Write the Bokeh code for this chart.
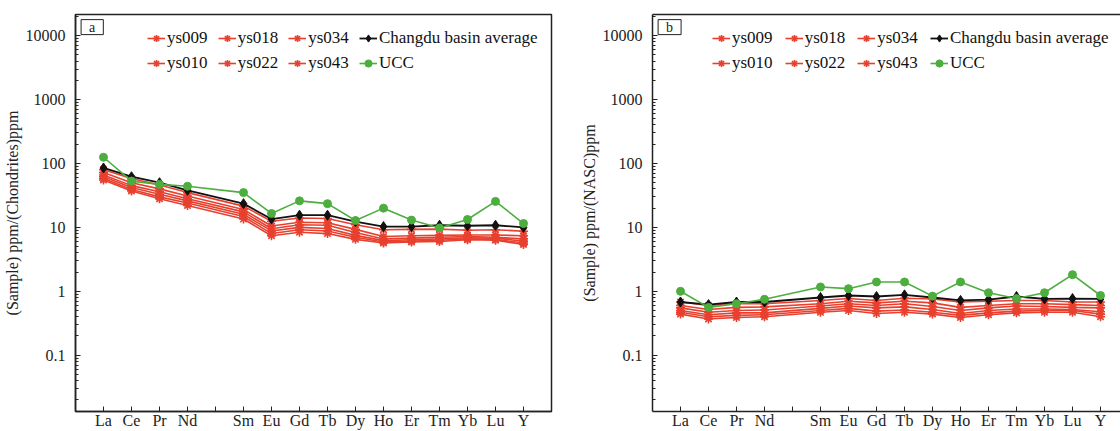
from bokeh.plotting import figure
from bokeh.models import FixedTicker, Legend, LegendItem, Label, LinearAxis, Range1d
from bokeh.layouts import row
from bokeh.embed import file_html
from bokeh.resources import INLINE

# ---------------- data ----------------
axis_labels = ["La", "Ce", "Pr", "Nd", "", "Sm", "Eu", "Gd", "Tb", "Dy", "Ho", "Er", "Tm", "Yb", "Lu", "Y"]
elements = [e for e in axis_labels if e]

y_ticks = [0.1, 1, 10, 100, 1000, 10000]
y_tick_labels = ["0.1", "1", "10", "100", "1000", "10000"]

# Panel a: chondrite-normalised
a_ys009 = [80, 58, 46, 35, 21.5, 12.5, 14.0, 13.8, 11.0, 9.2, 9.3, 9.4, 9.0, 9.2, 8.7]
a_ys010 = [72, 50, 40, 31, 19.0, 10.5, 12.0, 11.8, 9.3, 7.2, 7.4, 7.5, 7.6, 7.6, 7.4]
a_ys018 = [66, 45, 36, 28, 17.5, 9.5, 11.0, 10.8, 8.3, 6.6, 6.8, 7.0, 7.2, 7.0, 6.6]
a_ys022 = [62, 42, 33, 26, 16.0, 8.8, 10.0, 9.6, 7.5, 6.2, 6.4, 6.6, 6.9, 6.8, 6.1]
a_ys034 = [58, 39, 30, 24, 14.8, 8.0, 9.2, 8.8, 7.0, 5.9, 6.1, 6.3, 6.6, 6.5, 5.7]
a_ys043 = [55, 37, 28, 22, 13.5, 7.4, 8.4, 8.0, 6.5, 5.7, 5.9, 6.0, 6.4, 6.3, 5.4]
a_changdu = [85, 62, 50, 38, 23.5, 13.5, 15.5, 15.5, 12.3, 10.3, 10.3, 10.8, 10.6, 10.8, 10.0]
a_ucc = [125, 53, 47, 44, 35, 16.5, 26, 23.5, 12.8, 20, 13, 9.8, 13.3, 25.5, 11.5]

# Panel b: NASC-normalised
b_ys009 = [0.68, 0.60, 0.64, 0.64, 0.72, 0.77, 0.72, 0.78, 0.76, 0.68, 0.70, 0.72, 0.72, 0.68, 0.68]
b_ys010 = [0.60, 0.52, 0.56, 0.57, 0.64, 0.70, 0.66, 0.70, 0.66, 0.56, 0.60, 0.64, 0.64, 0.62, 0.60]
b_ys018 = [0.55, 0.47, 0.50, 0.51, 0.59, 0.64, 0.60, 0.64, 0.58, 0.50, 0.55, 0.59, 0.58, 0.56, 0.55]
b_ys022 = [0.50, 0.43, 0.46, 0.46, 0.54, 0.59, 0.55, 0.57, 0.52, 0.45, 0.50, 0.53, 0.53, 0.52, 0.48]
b_ys034 = [0.47, 0.40, 0.42, 0.43, 0.50, 0.54, 0.49, 0.51, 0.47, 0.42, 0.46, 0.49, 0.50, 0.50, 0.44]
b_ys043 = [0.44, 0.37, 0.39, 0.40, 0.47, 0.50, 0.45, 0.47, 0.44, 0.39, 0.43, 0.46, 0.47, 0.47, 0.40]
b_changdu = [0.68, 0.62, 0.68, 0.68, 0.80, 0.86, 0.83, 0.88, 0.80, 0.72, 0.74, 0.83, 0.76, 0.77, 0.76]
b_ucc = [1.0, 0.56, 0.64, 0.75, 1.17, 1.1, 1.4, 1.4, 0.84, 1.4, 0.95, 0.77, 0.95, 1.82, 0.86]

sample_names = ["ys009", "ys010", "ys018", "ys022", "ys034", "ys043"]
legend_row1 = ["ys009", "ys018", "ys034", "Changdu basin average"]
legend_row2 = ["ys010", "ys022", "ys043", "UCC"]

RED = "#e8402f"
GREEN = "#4dae3f"
BLACK = "#111111"
FONT = "Liberation Serif"

xs = [axis_labels.index(e) + 1 for e in elements]


def make_panel(samples, changdu, ucc, ylabel, tag, width, bl, br, x_end, leg_x, spacing, outline):
    p = figure(width=width, height=431, x_range=Range1d(0, x_end),
               y_range=Range1d(10 ** -1.88, 10 ** 4.33), y_axis_type="log",
               output_backend="svg", toolbar_location=None,
               min_border_left=bl, min_border_right=br, min_border_top=14, min_border_bottom=16)
    p.grid.visible = False
    p.background_fill_color = "white"
    p.border_fill_color = "white"

    xa = p.below[0]
    ya = p.left[0]

    xa.ticker = FixedTicker(ticks=list(range(1, len(axis_labels) + 1)))
    xa.major_label_overrides = {i + 1: lab for i, lab in enumerate(axis_labels)}
    xa.major_label_standoff = 0

    minor = [m * 10.0 ** k for k in range(-2, 5) for m in range(2, 10)]
    ya.ticker = FixedTicker(ticks=y_ticks, minor_ticks=minor)
    ya.major_label_overrides = {t: l for t, l in zip(y_ticks, y_tick_labels)}
    ya.major_label_standoff = 10
    ya.axis_label = ylabel
    ya.axis_label_text_font = FONT
    ya.axis_label_text_font_size = "16px"
    ya.axis_label_text_font_style = "normal"
    ya.axis_label_text_color = "#222222"
    ya.axis_label_standoff = 2

    for ax in (xa, ya):
        ax.axis_line_color = "#222222"
        ax.axis_line_width = 1.5
        ax.major_tick_in = 5
        ax.major_tick_out = 0
        ax.minor_tick_in = 3
        ax.minor_tick_out = 0
        ax.major_tick_line_color = "#222222"
        ax.major_label_text_font = FONT
        ax.major_label_text_font_size = "16px"
        ax.major_label_text_color = "#222222"
    xa.minor_tick_line_color = None
    ya.minor_tick_line_color = "#222222"

    if outline:
        p.outline_line_color = "#222222"
        p.outline_line_width = 1.5
        p.outline_line_alpha = 1.0
    else:
        p.outline_line_color = None
        top = LinearAxis(ticker=FixedTicker(ticks=[]), axis_line_color="#222222", axis_line_width=1.5,
                         major_tick_in=0, major_tick_out=0, minor_tick_in=0, minor_tick_out=0,
                         major_label_standoff=0, major_label_text_font_size="0px")
        p.add_layout(top, "above")

    rends = {}
    for name, vals in zip(sample_names, samples):
        l = p.line(xs, vals, line_color=RED, line_width=1.6)
        s = p.scatter(xs, vals, marker="asterisk", size=9, line_color=RED, line_width=1.6)
        rends[name] = [l, s]
    l = p.line(xs, changdu, line_color=BLACK, line_width=1.8)
    s = p.scatter(xs, changdu, marker="diamond", size=10, fill_color=BLACK, line_color=BLACK)
    rends["Changdu basin average"] = [l, s]
    l = p.line(xs, ucc, line_color=GREEN, line_width=1.6)
    s = p.scatter(xs, ucc, marker="circle", size=8, fill_color=GREEN, line_color=GREEN)
    rends["UCC"] = [l, s]

    H = 396
    for k, names in enumerate((legend_row1, legend_row2)):
        leg = Legend(items=[LegendItem(label=n, renderers=rends[n]) for n in names],
                     orientation="horizontal", location=(leg_x, H - 33 - 25 * k),
                     border_line_color=None, background_fill_alpha=0,
                     label_text_font=FONT, label_text_font_size="17px", label_text_color="#111111",
                     glyph_width=18, glyph_height=20, label_standoff=2, spacing=spacing,
                     padding=0, margin=0, label_height=20)
        p.add_layout(leg)

    p.add_layout(Label(x=0.2, y=10 ** 4.25, text=tag, text_font=FONT, text_font_size="14px",
                       text_color="#222222", text_baseline="top", text_align="left",
                       border_line_color="#222222", border_line_width=1,
                       background_fill_color="white", padding=(8, 0)))
    return p


pa = make_panel([a_ys009, a_ys010, a_ys018, a_ys022, a_ys034, a_ys043], a_changdu, a_ucc,
                "(Sample) ppm/(Chondrites)ppm", "a", 570, 75, 19, 17, 72, 10, True)
pb = make_panel([b_ys009, b_ys010, b_ys018, b_ys022, b_ys034, b_ys043], b_changdu, b_ucc,
                "(Sample) ppm/(NASC)ppm", "b", 550, 82, 0, 468 / 28, 60, 12, False)

layout = row(pa, pb)
open("out.html", "w").write(file_html(layout, INLINE))
